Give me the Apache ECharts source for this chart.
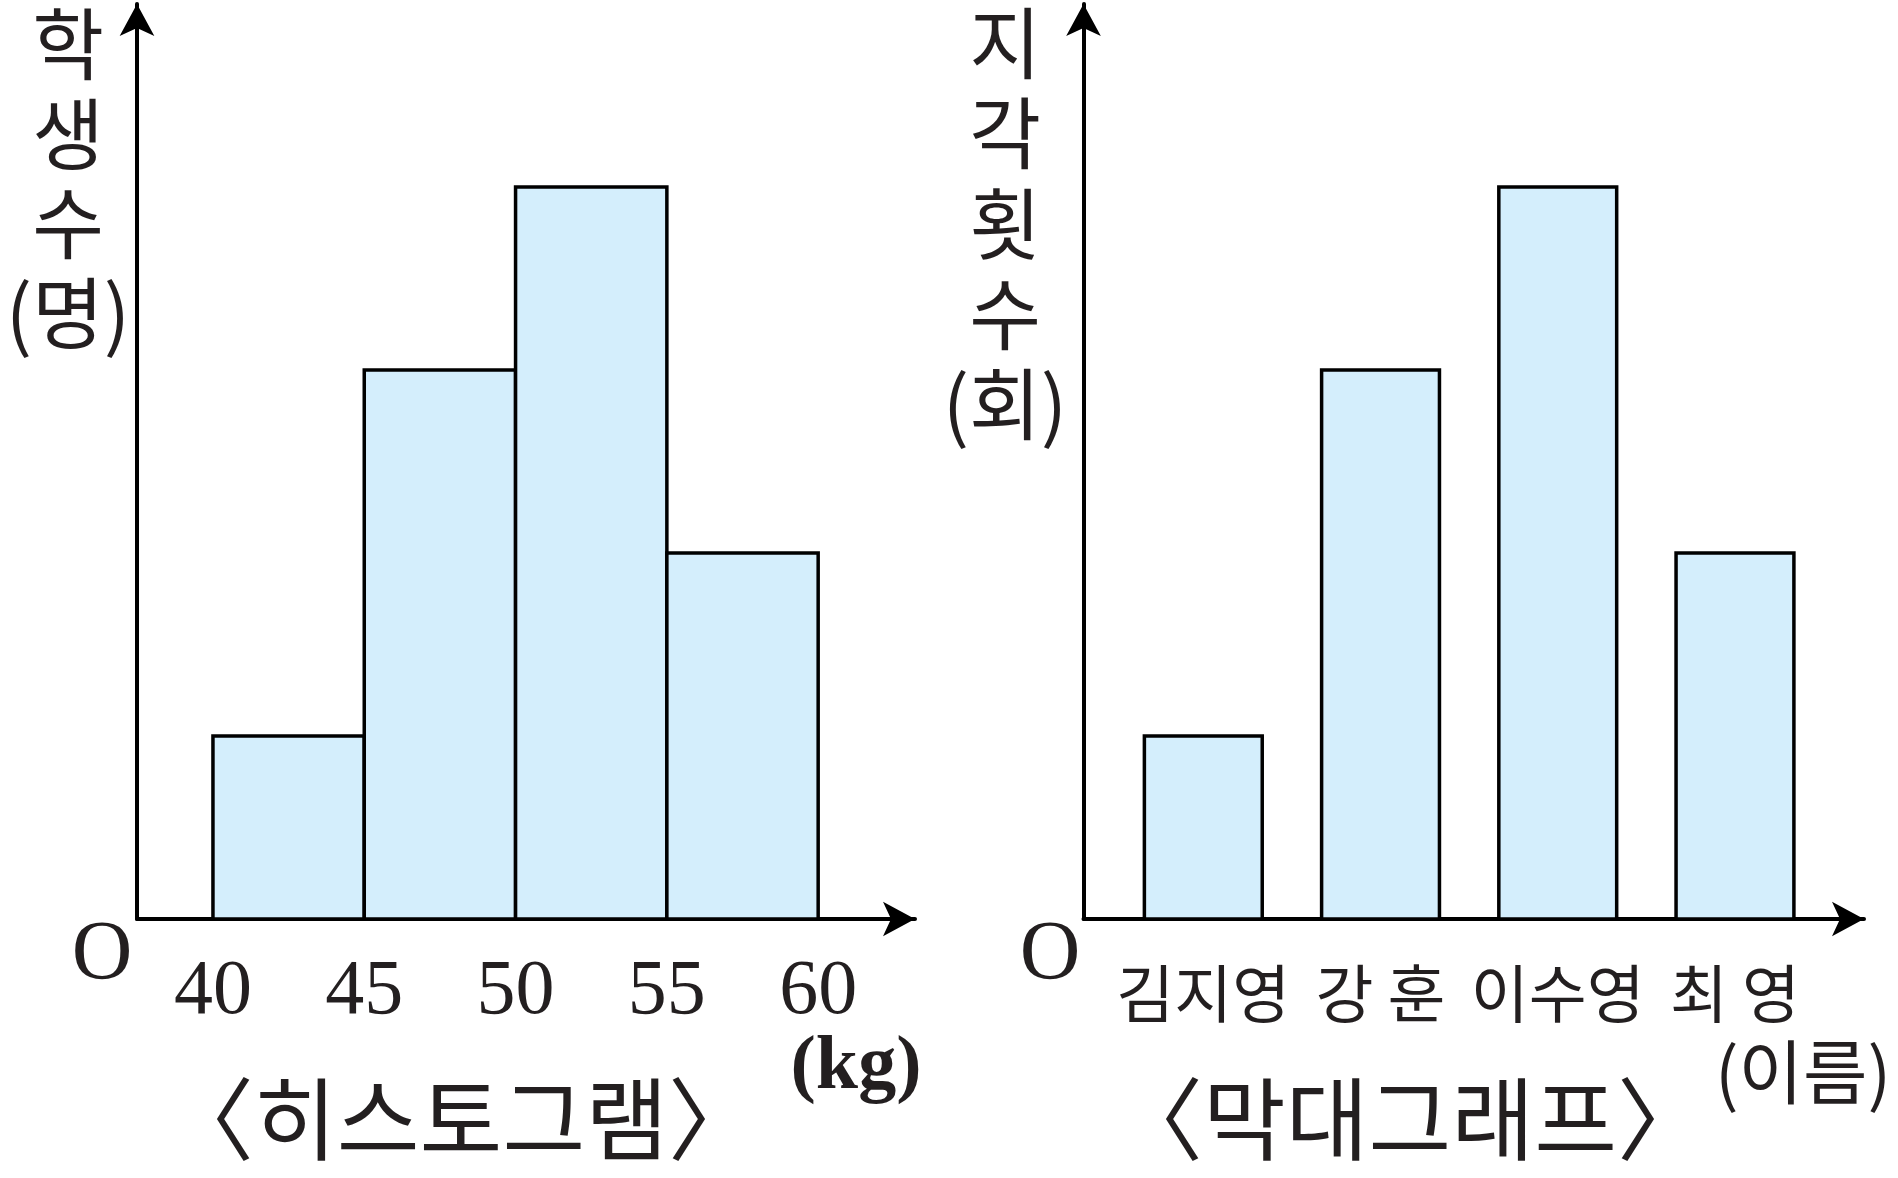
<!DOCTYPE html>
<html>
<head>
<meta charset="utf-8">
<script src="https://cdn.jsdelivr.net/npm/echarts@6/dist/echarts.min.js"></script>
<style>
html,body{margin:0;padding:0;background:#fff;}
#c{width:1898px;height:1178px;}
</style>
</head>
<body>
<div id="c"></div>
<script>
// ---- data ----
const binStarts = [40, 45, 50, 55];
const binEnds = [45, 50, 55, 60];
const studentCounts = [1, 3, 4, 2];
const weightTicks = [40, 45, 50, 55, 60];

const names = ['김지영', '강 훈', '이수영', '최 영'];
const lateCounts = [1, 3, 4, 2];

const leftAxisName = ['학', '생', '수', '(명)'];
const rightAxisName = ['지', '각', '횟', '수', '(회)'];

// ---- styles ----
const INK = '#231f20';
const FILL = '#d4eefc';
const SERIF = '"Liberation Serif", "DejaVu Serif", serif';
const KR = '"Noto Sans CJK KR", "Noto Sans", sans-serif';

const chart = echarts.init(document.getElementById('c'), null, {renderer: 'svg'});

const histData = binStarts.map((s, i) => [s, binEnds[i], studentCounts[i]]);
const barData = lateCounts.map((v, i) => [i, v]);
const HALF = 0.3325;

function axisLineStyle() {
  return {
    show: true,
    onZero: false,
    symbol: ['none', 'arrow'],
    symbolSize: [26, 32],
    lineStyle: {color: '#000', width: 4}
  };
}

function stackText(chars, cx, firstCenter, pitch) {
  return chars.map((t, k) => ({
    type: 'text', x: cx, y: firstCenter + k * pitch,
    style: {text: t, font: '78px ' + KR, lineHeight: 76, fill: INK, align: 'center', verticalAlign: 'middle'}
  }));
}

const option = {
  backgroundColor: '#fff',
  animation: false,
  grid: [
    {left: 137, top: 4, width: 778, height: 915, outerBoundsMode: 'none'},
    {left: 1083.5, top: 4, width: 780.5, height: 915, outerBoundsMode: 'none'}
  ],
  xAxis: [
    {
      type: 'value', gridIndex: 0, min: 37.49, max: 63.2,
      axisLine: axisLineStyle(),
      axisTick: {show: false},
      splitLine: {show: false},
      axisLabel: {
        show: true, customValues: weightTicks, margin: 67, verticalAlign: 'middle',
        fontFamily: SERIF, fontSize: 78, color: INK
      }
    },
    {
      type: 'value', gridIndex: 1, min: -0.676, max: 3.728,
      axisLine: axisLineStyle(),
      axisTick: {show: false},
      splitLine: {show: false},
      axisLabel: {
        show: true, customValues: [0, 1, 2, 3], margin: 70, verticalAlign: 'middle',
        fontFamily: KR, fontSize: 63, color: INK,
        formatter: (v) => names[Math.round(v)]
      }
    }
  ],
  yAxis: [
    {
      type: 'value', gridIndex: 0, min: 0, max: 5,
      axisLine: axisLineStyle(), axisTick: {show: false},
      splitLine: {show: false}, axisLabel: {show: false}
    },
    {
      type: 'value', gridIndex: 1, min: 0, max: 5,
      axisLine: axisLineStyle(), axisTick: {show: false},
      splitLine: {show: false}, axisLabel: {show: false}
    }
  ],
  series: [
    {
      type: 'custom', xAxisIndex: 0, yAxisIndex: 0, data: histData,
      renderItem: function (params, api) {
        const p0 = api.coord([api.value(0), api.value(2)]);
        const p1 = api.coord([api.value(1), 0]);
        return {
          type: 'rect',
          shape: {x: p0[0], y: p0[1], width: p1[0] - p0[0], height: p1[1] - p0[1]},
          style: {fill: FILL, stroke: '#000', lineWidth: 3.5}
        };
      }
    },
    {
      type: 'custom', xAxisIndex: 1, yAxisIndex: 1, data: barData,
      renderItem: function (params, api) {
        const i = api.value(0);
        const p0 = api.coord([i - HALF, api.value(1)]);
        const p1 = api.coord([i + HALF, 0]);
        return {
          type: 'rect',
          shape: {x: p0[0], y: p0[1], width: p1[0] - p0[0], height: p1[1] - p0[1]},
          style: {fill: FILL, stroke: '#000', lineWidth: 3.5}
        };
      }
    }
  ],
  graphic: [].concat(
    stackText(leftAxisName, 68, 40, 89.5),
    stackText(rightAxisName, 1005, 39, 90.3),
    [
      {type: 'text', x: 102, y: 950, style: {text: 'O', font: '84px ' + SERIF, fill: INK, align: 'center', verticalAlign: 'middle'}},
      {type: 'text', x: 1050, y: 950, style: {text: 'O', font: '84px ' + SERIF, fill: INK, align: 'center', verticalAlign: 'middle'}},
      {type: 'text', x: 856, y: 1062, style: {text: '(kg)', font: 'bold 76px ' + SERIF, fill: INK, align: 'center', verticalAlign: 'middle'}},
      {type: 'text', x: 1803, y: 1068, style: {text: '(이름)', font: '70px ' + KR, fill: INK, align: 'center', verticalAlign: 'middle'}},
      {type: 'text', x: 461, y: 1114, style: {text: '〈히스토그램〉', font: '90px ' + KR, fill: INK, align: 'center', verticalAlign: 'middle'}},
      {type: 'text', x: 1410, y: 1114, style: {text: '〈막대그래프〉', font: '90px ' + KR, fill: INK, align: 'center', verticalAlign: 'middle'}}
    ]
  )
};

chart.setOption(option);
</script>
</body>
</html>
